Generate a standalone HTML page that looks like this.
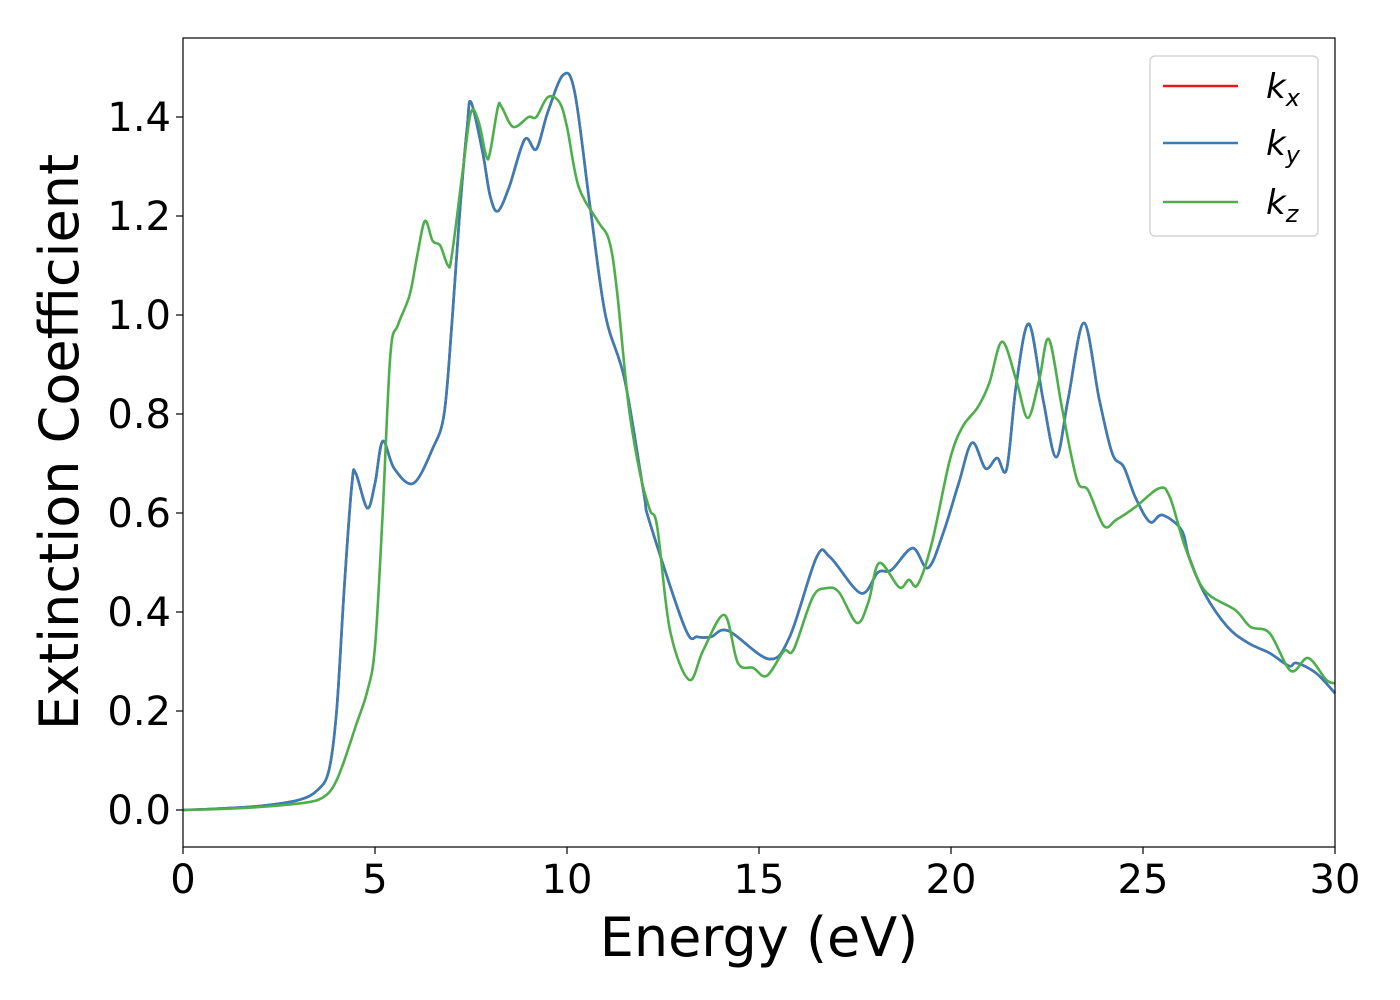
<!DOCTYPE html>
<html><head><meta charset="utf-8"><style>
body{margin:0;background:#fff;}
svg{display:block;font-family:"DejaVu Sans","Liberation Sans",sans-serif;}
</style></head><body>
<svg id="chart" width="1400" height="1000" viewBox="0 0 1400 1000" xmlns="http://www.w3.org/2000/svg">
<rect x="0" y="0" width="1400" height="1000" fill="#fff"/>
<g id="series"></g>
<rect x="183" y="38" width="1152" height="809" fill="none" stroke="#000" stroke-width="1.2"/>
<g id="xticks"></g>
<g id="yticks"></g>
<text x="759" y="956" font-size="54" text-anchor="middle">Energy (eV)</text>
<text transform="translate(78,442) rotate(-90)" font-size="54" text-anchor="middle">Extinction Coefficient</text>
<g>
<rect x="1150" y="56" width="168" height="180" rx="5" fill="#fff" stroke="#ccc" stroke-width="1.2"/>
<line x1="1163" y1="86" x2="1238" y2="86" stroke="#e41a1c" stroke-width="2.5"/>
<text x="1266" y="98" font-size="34" font-style="italic">k<tspan font-size="24" dy="8">x</tspan></text>
<line x1="1163" y1="143" x2="1238" y2="143" stroke="#377eb8" stroke-width="2.5"/>
<text x="1266" y="155" font-size="34" font-style="italic">k<tspan font-size="24" dy="8">y</tspan></text>
<line x1="1163" y1="202" x2="1238" y2="202" stroke="#4daf4a" stroke-width="2.5"/>
<text x="1266" y="214" font-size="34" font-style="italic">k<tspan font-size="24" dy="8">z</tspan></text>
</g>
</svg>
<script>
const xTickLabels=[0,5,10,15,20,25,30];
const yTickLabels=["0.0","0.2","0.4","0.6","0.8","1.0","1.2","1.4"];
const kxyE=[0,1,2,3,3.5,3.8,4.0,4.2,4.4,4.5,4.8,5.0,5.2,5.5,6.0,6.5,6.8,7.0,7.2,7.4,7.5,7.8,8.0,8.2,8.5,8.9,9.2,9.5,9.9,10.2,10.6,11.0,11.5,12.0,12.16,13.07,13.4,13.75,14.2,15.26,15.8,16.5,16.85,17.65,18.1,18.45,19.0,19.4,19.8,20.2,20.55,20.9,21.2,21.45,21.7,22.03,22.4,22.74,23.05,23.46,23.86,24.2,24.5,24.8,25.18,25.5,26.0,26.2,26.6,27.2,27.75,28.3,28.8,29.0,29.5,30];
const kxV=[0,0.003,0.008,0.02,0.04,0.08,0.2,0.45,0.66,0.68,0.61,0.66,0.745,0.69,0.66,0.73,0.8,0.98,1.2,1.38,1.43,1.33,1.24,1.21,1.26,1.355,1.335,1.41,1.485,1.45,1.22,1.0,0.87,0.64,0.58,0.368,0.35,0.35,0.362,0.305,0.35,0.511,0.511,0.438,0.48,0.485,0.529,0.489,0.56,0.66,0.742,0.69,0.711,0.689,0.86,0.982,0.828,0.713,0.83,0.984,0.83,0.72,0.693,0.632,0.582,0.596,0.566,0.511,0.438,0.37,0.337,0.317,0.291,0.297,0.277,0.236];
const kyV=kxV.slice();
const kzE=[0,1,2,3,3.5,3.8,4.0,4.2,4.5,4.8,5.0,5.2,5.4,5.6,5.9,6.1,6.3,6.5,6.7,6.9,7.0,7.3,7.5,7.7,7.9,8.0,8.2,8.3,8.6,9.0,9.2,9.5,9.8,10.0,10.3,10.8,11.1,11.3,11.6,11.9,12.16,12.35,12.68,13.18,13.55,14.1,14.45,14.85,15.2,15.65,15.9,16.4,16.75,17.08,17.55,17.85,18.13,18.65,18.9,19.13,19.5,19.97,20.3,20.7,21.0,21.33,21.7,22.0,22.3,22.55,22.9,23.28,23.57,23.98,24.3,24.8,25.42,25.7,26.1,26.6,27.4,27.8,28.3,28.85,29.3,29.77,30];
const kzV=[0,0.002,0.006,0.013,0.02,0.035,0.06,0.1,0.17,0.24,0.33,0.6,0.92,0.98,1.04,1.12,1.19,1.15,1.14,1.1,1.12,1.3,1.41,1.39,1.32,1.33,1.42,1.42,1.38,1.40,1.40,1.44,1.43,1.38,1.26,1.19,1.15,1.05,0.82,0.68,0.606,0.572,0.364,0.263,0.323,0.394,0.297,0.287,0.271,0.321,0.324,0.43,0.448,0.44,0.378,0.42,0.499,0.45,0.465,0.455,0.539,0.707,0.774,0.814,0.863,0.946,0.868,0.792,0.87,0.951,0.808,0.667,0.646,0.574,0.586,0.612,0.65,0.632,0.531,0.444,0.404,0.37,0.357,0.281,0.307,0.263,0.256];

const NS="http://www.w3.org/2000/svg";
const X0=183,X1=1335,Y0=810,PER=495;
function sx(e){return X0+(X1-X0)*e/30;}
function sy(v){return Y0-v*PER;}
function pathFor(E,V){
  const p=E.map((e,i)=>[sx(e),sy(V[i])]);
  let d="M"+p[0][0].toFixed(1)+","+p[0][1].toFixed(1);
  for(let i=0;i<p.length-1;i++){
    const a=p[Math.max(i-1,0)],b=p[i],c=p[i+1],n=p[Math.min(i+2,p.length-1)];
    const c1=[b[0]+(c[0]-a[0])/6,b[1]+(c[1]-a[1])/6];
    const c2=[c[0]-(n[0]-b[0])/6,c[1]-(n[1]-b[1])/6];
    d+="C"+c1[0].toFixed(1)+","+c1[1].toFixed(1)+" "+c2[0].toFixed(1)+","+c2[1].toFixed(1)+" "+c[0].toFixed(1)+","+c[1].toFixed(1);
  }
  return d;
}
const g=document.getElementById("series");
function addLine(E,V,color,name){
  const el=document.createElementNS(NS,"path");
  el.setAttribute("d",pathFor(E,V));
  el.setAttribute("fill","none");
  el.setAttribute("stroke",color);
  el.setAttribute("stroke-width","2.6");
  el.setAttribute("stroke-linejoin","round");
  
  
  g.appendChild(el);
}
addLine(kxyE,kxV,"#e41a1c","series-kx");
addLine(kxyE,kyV,"#377eb8","series-ky");
addLine(kzE,kzV,"#4daf4a","series-kz");

const xt=document.getElementById("xticks");
xTickLabels.forEach(v=>{
  const l=document.createElementNS(NS,"line");
  l.setAttribute("x1",sx(v));l.setAttribute("x2",sx(v));
  l.setAttribute("y1",847);l.setAttribute("y2",854);
  l.setAttribute("stroke","#000");l.setAttribute("stroke-width","1.2");
  
  
  xt.appendChild(l);
  const t=document.createElementNS(NS,"text");
  t.setAttribute("x",sx(v));t.setAttribute("y",893);
  t.setAttribute("font-size","40");t.setAttribute("text-anchor","middle");
  t.textContent=v;
  
  
  xt.appendChild(t);
});
const yt=document.getElementById("yticks");
yTickLabels.forEach(s=>{
  const v=parseFloat(s);
  const l=document.createElementNS(NS,"line");
  l.setAttribute("x1",176);l.setAttribute("x2",183);
  l.setAttribute("y1",sy(v));l.setAttribute("y2",sy(v));
  l.setAttribute("stroke","#000");l.setAttribute("stroke-width","1.2");
  
  
  yt.appendChild(l);
  const t=document.createElementNS(NS,"text");
  t.setAttribute("x",171);t.setAttribute("y",sy(v)+14);
  t.setAttribute("font-size","40");t.setAttribute("text-anchor","end");
  t.textContent=s;
  
  
  yt.appendChild(t);
});
</script>
</body></html>
